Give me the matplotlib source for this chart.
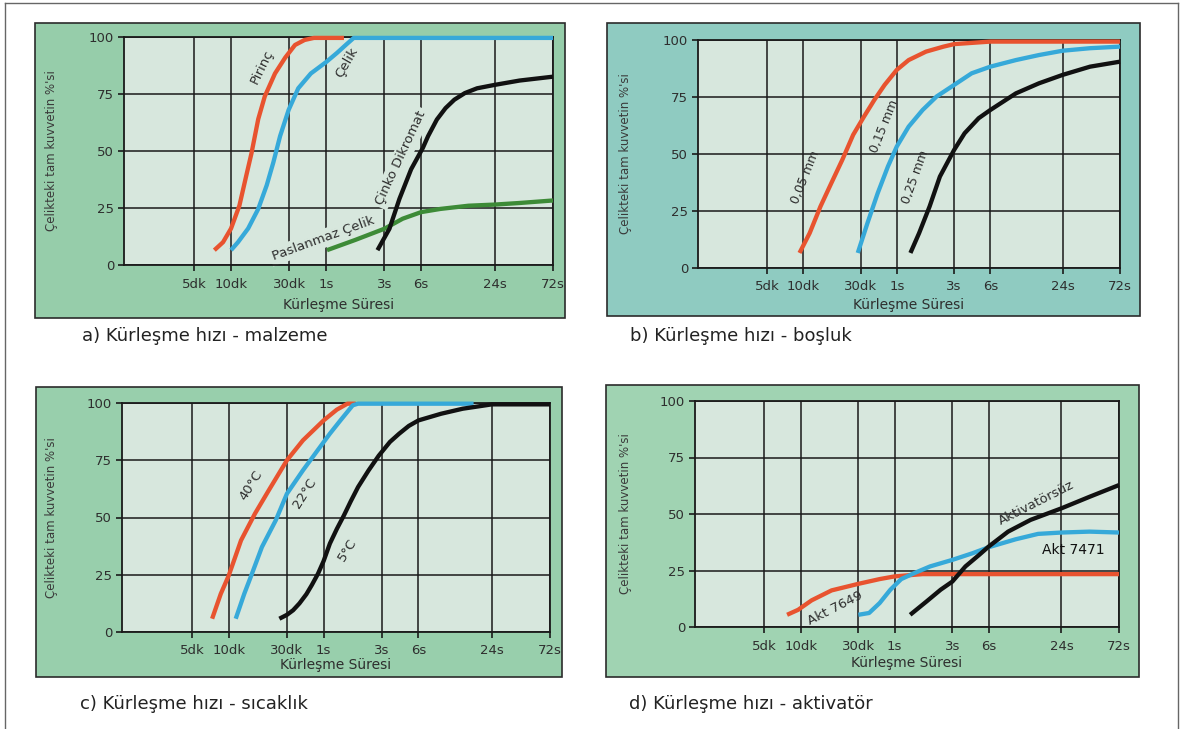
import matplotlib
matplotlib.use('Agg')
import matplotlib.pyplot as plt
from matplotlib.patches import Rectangle
from matplotlib.lines import Line2D
from matplotlib.ticker import NullLocator

W, H = 1183, 729

# x axis: curing time in minutes (dk = dakika, s = saat)
tick_min = [5, 10, 30, 60, 180, 360, 1440, 4320]
tick_labels = ['5dk', '10dk', '30dk', '1s', '3s', '6s', '24s', '72s']
y_ticks = [0, 25, 50, 75, 100]

# a) malzeme
pirinc_x = [7.3, 8.6, 10, 11.7, 13.3, 14.7, 16.7, 18.9, 22.9, 27.8, 33.4, 40, 47.7, 84]
pirinc_y = [6.5, 10, 16, 26, 39, 49, 64, 74, 84, 91, 96.5, 98.7, 99.6, 99.6]
celik_x = [10, 11.4, 13.8, 16.7, 19.6, 22.2, 25.2, 29.6, 35.5, 45, 60, 73.6, 89, 101, 4320]
celik_y = [6.5, 10, 16, 24.6, 35, 45, 56.5, 68, 77.5, 84, 89, 93, 97, 99.6, 99.6]
cinko_x = [158, 198, 239, 298, 372, 410, 484, 570, 673, 820, 1033, 1440, 2300, 4320]
cinko_y = [6.5, 15.9, 29, 42, 51.4, 56.5, 63.8, 68.8, 72.5, 75.4, 77.5, 79, 80.9, 82.6]
pas_x = [61, 104, 180, 254, 360, 518, 878, 1440, 2300, 4320]
pas_y = [6.5, 11, 15.9, 20.3, 23.2, 24.6, 26, 26.5, 27.2, 28.3]

# b) boşluk
b005_x = [9.3, 11.3, 13.9, 17.1, 21.1, 26, 32, 39, 47.5, 60, 75.3, 105, 147, 180, 360, 4320]
b005_y = [6.6, 15.3, 27, 37.2, 47.4, 58.4, 66.4, 73.7, 80.3, 86.9, 91.2, 94.9, 97.1, 98.2, 99.3, 99.3]
b015_x = [28.4, 34.2, 41.6, 50.6, 60, 75.3, 98.4, 128.5, 180, 252, 360, 588, 914, 1440, 2432, 4320]
b015_y = [6.6, 19.7, 32.8, 44.5, 53.3, 62, 69.3, 75.2, 80.3, 85.4, 88.3, 91.2, 93.4, 95.3, 96.4, 97.1]
b025_x = [77.9, 92, 112.5, 137, 180, 220, 288, 360, 588, 914, 1440, 2432, 4320]
b025_y = [6.6, 15.3, 27, 40.1, 51.8, 59.1, 65.7, 69.3, 76.6, 81, 84.7, 88.3, 90.5]

# c) sıcaklık
c40_x = [7.3, 8.6, 10, 12.6, 16.4, 21.3, 30, 40.6, 60, 77, 94, 110]
c40_y = [5.8, 16.7, 24.7, 40, 51.7, 61.9, 75, 83.7, 92.4, 97.1, 99.7, 99.7]
c22_x = [11.4, 13.4, 15.3, 18.7, 24.3, 30, 40.6, 53.5, 67.5, 82.4, 104, 115, 1020]
c22_y = [5.8, 16.7, 24.7, 37.1, 48.8, 60.4, 70.6, 79.3, 86.6, 92.4, 99, 99.7, 99.7]
c5_x = [26, 30, 33.7, 38, 43.3, 48, 54, 60, 67.5, 77, 88, 100, 115, 140, 170, 210, 250,
        300, 360, 551, 830, 1440, 4320]
c5_y = [5.8, 7.5, 9.5, 12.5, 16.5, 20.5, 25.5, 31, 38.6, 45, 50.9, 57, 63.3, 70.5, 77,
        83, 86.6, 90, 92.4, 95.3, 97.5, 99.4, 99.4]

# d) aktivatör
a7649_x = [7.7, 9.5, 12.3, 18, 30, 45, 60, 102, 4320]
a7649_y = [5.4, 7.6, 11.8, 16.2, 19.1, 21.2, 22.4, 23.4, 23.4]
a7471_x = [30, 36.8, 45, 55.2, 67.9, 89.4, 117.6, 180, 263, 360, 601, 923, 1440, 2460, 4320]
a7471_y = [5.4, 6.2, 10.6, 16.5, 21.2, 24.1, 26.8, 29.7, 32.6, 35.3, 38.8, 41.2, 41.8, 42.2, 41.8]
aktsuz_x = [80.5, 110, 144, 180, 231, 300, 360, 521, 800, 1440, 2460, 4320]
aktsuz_y = [5.4, 11.3, 16.5, 20.1, 26.8, 31.9, 35.6, 42.2, 47.4, 52.5, 57.6, 62.8]

RED = '#e8532f'
BLUE = '#36a9d9'
BLACK = '#111111'
GREEN = '#3d8b37'
PLOT_BG = '#d7e7dd'
TXT = '#2e2e2e'
FONT = 'DejaVu Sans'

fig = plt.figure(figsize=(W / 100, H / 100), dpi=100)
fig.patch.set_facecolor('white')

# outer page border
for xs, ys in [([5, 5], [3, H]), ([5, 1178], [3, 3]), ([1178, 1178], [3, H])]:
    fig.add_artist(Line2D([x / W for x in xs], [1 - y / H for y in ys],
                          color='#666666', lw=1.0))


def frame(l, t, r, b, color):
    fig.add_artist(Rectangle((l / W, 1 - b / H), (r - l) / W, (b - t) / H,
                             transform=fig.transFigure, facecolor=color,
                             edgecolor='#2b2b2b', lw=1.2, zorder=0))


def panel(l, t, r, b, ylab_x, xlab_y):
    ax = fig.add_axes([l / W, 1 - b / H, (r - l) / W, (b - t) / H])
    ax.set_facecolor(PLOT_BG)
    ax.set_xscale('log')
    ax.set_xlim(1.33, 4320)
    ax.set_ylim(0, 100)
    ax.set_xticks(tick_min)
    ax.set_xticklabels(tick_labels)
    ax.xaxis.set_minor_locator(NullLocator())
    ax.set_yticks(y_ticks)
    ax.grid(True, color='#1a1a1a', lw=1.1)
    ax.set_axisbelow(True)
    for s in ax.spines.values():
        s.set_color('#1a1a1a')
        s.set_linewidth(1.3)
    ax.tick_params(axis='both', direction='out', length=4, width=1.2,
                   labelsize=9.5, labelcolor=TXT, color='#1a1a1a')
    ax.tick_params(axis='x', pad=5)
    ax.tick_params(axis='y', pad=3)
    for lab in ax.get_xticklabels() + ax.get_yticklabels():
        lab.set_family(FONT)
    ax.set_ylabel("Çelikteki tam kuvvetin %'si", fontsize=8.5, color='#3a3a3a',
                  family=FONT)
    ax.yaxis.set_label_coords((ylab_x - 6 - l) / (r - l), 0.5)
    ax.set_xlabel('Kürleşme Süresi', fontsize=10, color=TXT, family=FONT)
    ax.xaxis.set_label_coords(0.5, -(xlab_y - 7 - b) / (b - t))
    return ax


def curve(ax, x, y, color):
    ax.plot(x, y, color=color, lw=3.1, solid_capstyle='butt',
            solid_joinstyle='round', clip_on=False, zorder=3)


def label(ax, x, y, s, rot, box=False, size=9.5):
    kw = {}
    if box:
        kw['bbox'] = dict(facecolor=PLOT_BG, edgecolor='none', pad=2)
    ax.text(x, y, s, rotation=rot, ha='center', va='center', fontsize=size,
            color=TXT, family=FONT, rotation_mode='anchor', zorder=2.5, **kw)


frame(35, 23, 565, 318, '#96cdaa')
frame(607, 23, 1140, 316, '#8fcbc1')
frame(36, 387, 562, 677, '#98cfac')
frame(606, 385, 1139, 677, '#a0d3b2')

# a) malzeme
ax = panel(124, 37, 553, 265, 64, 305)
curve(ax, pirinc_x, pirinc_y, RED)
curve(ax, celik_x, celik_y, BLUE)
curve(ax, pas_x, pas_y, GREEN)
curve(ax, cinko_x, cinko_y, BLACK)
label(ax, 17.8, 87, 'Pirinç', 64, box=True)
label(ax, 89, 89, 'Çelik', 60, box=True)
label(ax, 247, 47, 'Çinko Dikromat', 65, box=True)
label(ax, 57, 11.6, 'Paslanmaz Çelik', 20, box=True)

# b) boşluk
ax = panel(698, 40, 1120, 268, 638, 305)
curve(ax, b005_x, b005_y, RED)
curve(ax, b015_x, b015_y, BLUE)
curve(ax, b025_x, b025_y, BLACK)
label(ax, 10.5, 40, '0,05 mm', 68, size=9)
label(ax, 47.5, 62, '0,15 mm', 68, size=9)
label(ax, 86, 40, '0,25 mm', 70, size=9)

# c) sıcaklık
ax = panel(122, 403, 550, 632, 64, 665)
curve(ax, c40_x, c40_y, RED)
curve(ax, c22_x, c22_y, BLUE)
curve(ax, c5_x, c5_y, BLACK)
label(ax, 15.3, 64, '40°C', 58)
label(ax, 41.9, 60.4, '22°C', 58)
label(ax, 94, 35.7, '5°C', 58)

# d) aktivatör
ax = panel(695, 401, 1119, 627, 638, 663)
curve(ax, a7649_x, a7649_y, RED)
curve(ax, a7471_x, a7471_y, BLUE)
curve(ax, aktsuz_x, aktsuz_y, BLACK)
label(ax, 19.2, 8.5, 'Akt 7649', 27)
ax.text(1815, 34, 'Akt 7471', ha='center', va='center', fontsize=10,
        color='#111111', family=FONT, zorder=4)
label(ax, 891, 55, 'Aktivatörsüz', 27)

# captions
cap_kw = dict(fontsize=13, color='#222222', family=FONT, va='center', ha='left')
fig.text(82 / W, 1 - 336 / H, 'a) Kürleşme hızı - malzeme', **cap_kw)
fig.text(630 / W, 1 - 336 / H, 'b) Kürleşme hızı - boşluk', **cap_kw)
fig.text(80 / W, 1 - 704 / H, 'c) Kürleşme hızı - sıcaklık', **cap_kw)
fig.text(629 / W, 1 - 704 / H, 'd) Kürleşme hızı - aktivatör', **cap_kw)

fig.savefig('out.png', dpi=100)
